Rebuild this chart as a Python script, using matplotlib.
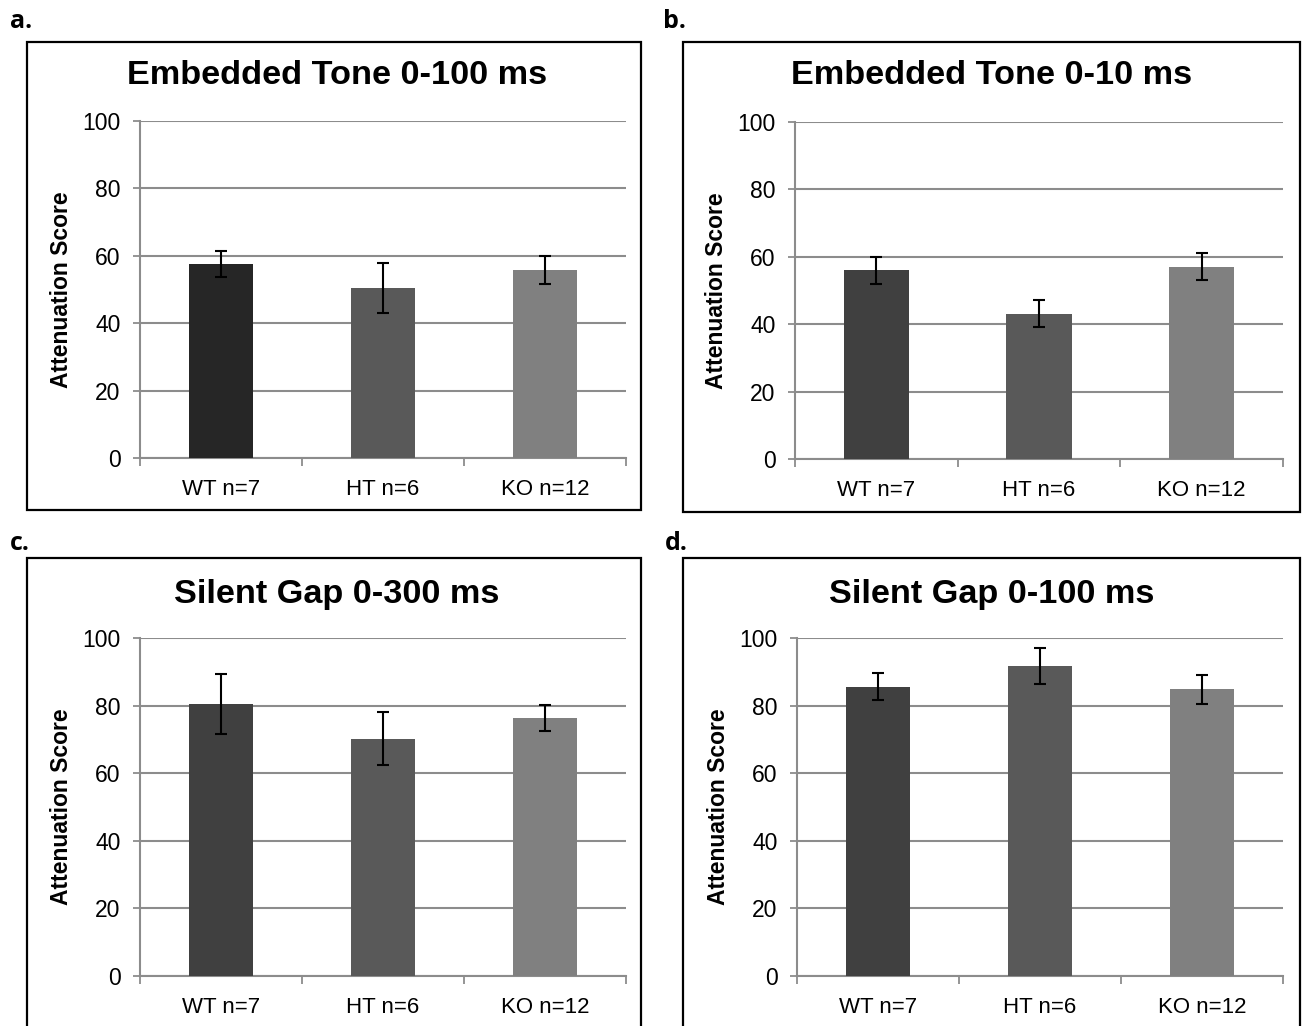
import matplotlib
matplotlib.use('Agg')
import matplotlib.pyplot as plt
from matplotlib.patches import Rectangle

# data
groups = ['WT n=7', 'HT n=6', 'KO n=12']
titles = ['Embedded Tone 0-100 ms', 'Embedded Tone 0-10 ms',
          'Silent Gap 0-300 ms', 'Silent Gap 0-100 ms']
panel_letters = ['a.', 'b.', 'c.', 'd.']
tone100_mean = [57.6, 50.4, 55.8]
tone100_err = [3.8, 7.4, 4.2]
tone10_mean = [56.0, 43.1, 57.1]
tone10_err = [4.0, 4.0, 3.9]
gap300_mean = [80.5, 70.2, 76.4]
gap300_err = [8.8, 7.8, 3.9]
gap100_mean = [85.6, 91.6, 84.8]
gap100_err = [3.9, 5.3, 4.2]
yticks = [0, 20, 40, 60, 80, 100]

means = [tone100_mean, tone10_mean, gap300_mean, gap100_mean]
errs = [tone100_err, tone10_err, gap300_err, gap100_err]
bar_colors = [['#262626', '#595959', '#808080'],
              ['#404040', '#595959', '#808080'],
              ['#404040', '#595959', '#808080'],
              ['#404040', '#595959', '#808080']]

W, H = 1310, 1026
# axes boxes in pixels: left, right, top(y=100), bottom(y=0)
axes_px = [(140, 626, 121, 458), (795, 1283, 122, 459),
           (140, 626, 638, 976), (797, 1283, 638, 976)]
# panel frames in pixels: left, right, top, bottom
frames_px = [(27, 641, 42, 510), (683, 1300, 42, 512),
             (27, 641, 558, 1080), (683, 1300, 558, 1080)]
title_pos = [(337, 76), (992, 76), (337, 594), (992, 594)]
letter_pos = [(10, 22), (663, 22), (10, 543), (665, 543)]

tick_font = ['Liberation Sans Narrow', 'Liberation Sans']
grid_c = '#8c8c8c'


def main():
    fig = plt.figure(figsize=(W / 100, H / 100), dpi=100)
    fig.patch.set_facecolor('white')

    for i in range(4):
        fl, fr, ft, fb = frames_px[i]
        fig.patches.append(Rectangle((fl / W, 1 - fb / H), (fr - fl) / W, (fb - ft) / H,
                                     transform=fig.transFigure, fill=False,
                                     edgecolor='black', linewidth=1.6, zorder=0))

        l, r, t, b = axes_px[i]
        ax = fig.add_axes([l / W, 1 - b / H, (r - l) / W, (b - t) / H])
        x = range(len(groups))
        ax.bar(x, means[i], width=0.4, color=bar_colors[i], zorder=3)
        ax.errorbar(x, means[i], yerr=errs[i], fmt='none', ecolor='black',
                    elinewidth=1.5, capsize=4, capthick=1.5, zorder=4)

        ax.set_xlim(-0.5, 2.5)
        ax.set_ylim(0, 100)
        ax.set_yticks(yticks)
        ax.set_yticklabels([str(v) for v in yticks], family=tick_font, fontsize=16.5)
        ax.yaxis.grid(True, color=grid_c, linewidth=1.5, zorder=0)
        ax.set_xticks([-0.5, 0.5, 1.5, 2.5])
        ax.set_xticklabels([])
        ax.set_xticks(list(x), minor=True)
        ax.set_xticklabels(groups, minor=True, family=tick_font, fontsize=16)
        ax.tick_params(axis='x', which='minor', length=0, pad=15)
        ax.tick_params(axis='x', which='major', length=6, width=1.3, color=grid_c)
        ax.tick_params(axis='y', length=5, width=1.3, color=grid_c, pad=9)

        for s in ['top', 'right']:
            ax.spines[s].set_visible(False)
        for s in ['left', 'bottom']:
            ax.spines[s].set_color(grid_c)
            ax.spines[s].set_linewidth(1.5)

        ax.set_ylabel('Attenuation Score', fontsize=16.5, fontweight='bold',
                      family='Liberation Sans')
        ax.yaxis.set_label_coords(-0.138, 0.5)

        tx, ty = title_pos[i]
        fig.text(tx / W, 1 - ty / H, titles[i], ha='center', va='center',
                 fontsize=24.7, fontweight='bold', family='Liberation Sans')
        lx, ly = letter_pos[i]
        fig.text(lx / W, 1 - ly / H, panel_letters[i], ha='left', va='center',
                 fontsize=18, fontweight='bold', family='Open Sans')

    fig.savefig('out.png', dpi=100)


if __name__ == '__main__':
    main()
